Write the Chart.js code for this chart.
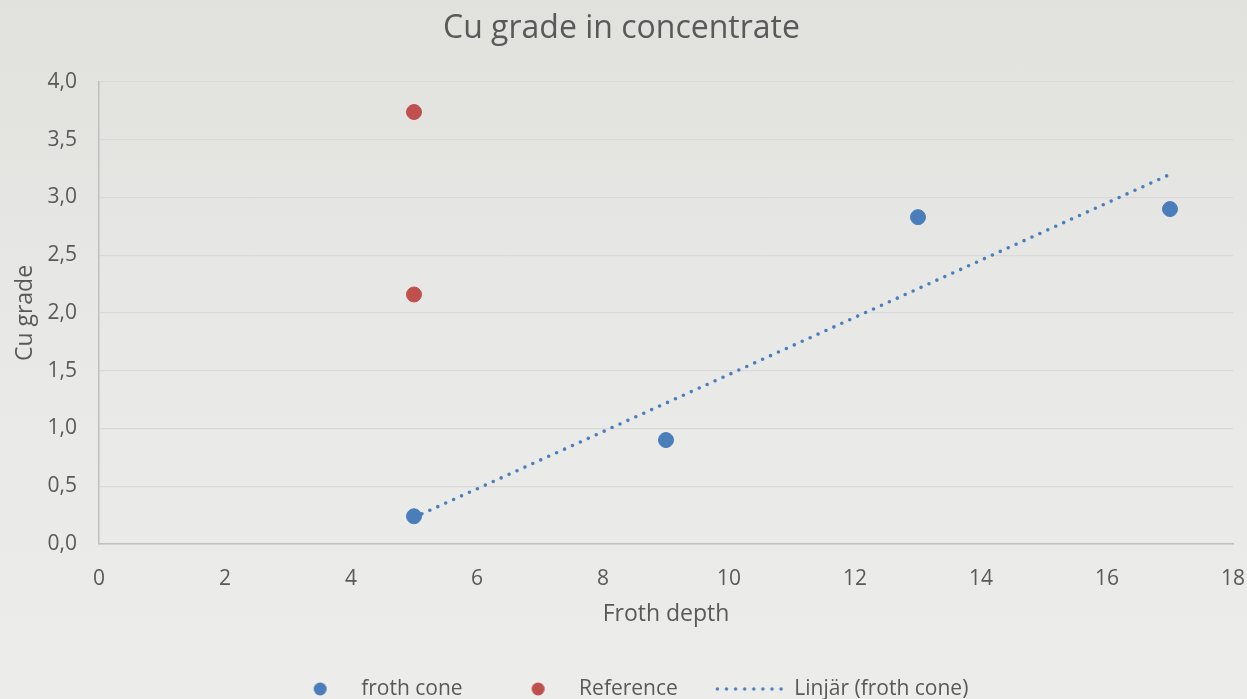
<!DOCTYPE html>
<html>
<head>
<meta charset="utf-8">
<script src="https://cdn.jsdelivr.net/npm/chart.js@4.4.1/dist/chart.umd.min.js"></script>
<style>
  html, body { margin: 0; padding: 0; }
  body {
    width: 1247px;
    height: 699px;
    overflow: hidden;
    background: linear-gradient(#e1e1de, #e9e9e7 55%, #ececeb);
  }
  canvas { display: block; }
</style>
</head>
<body>
<canvas id="chart" width="1247" height="699"></canvas>
<script>
// froth cone samples
const frothDepth = [5, 9, 13, 17];
const frothGrade = [0.24, 0.90, 2.83, 2.90];

// reference samples
const refDepth = [5, 5];
const refGrade = [3.74, 2.16];

const trendDepth = [5, 17];
const trendGrade = [0.23, 3.20];

const seriesNames = ["froth cone", "Reference", "Linjär (froth cone)"];

const blue = "#4a7ebb";
const red = "#c0504d";
const textColor = "#595959";

const toPoints = (xs, ys) => xs.map((x, i) => ({ x: x, y: ys[i] }));

// legend markers drawn into small canvases so the three entries line up like the original
function legendMarker(kind, color) {
    const c = document.createElement("canvas");
    c.width = 76;
    c.height = 18;
    const g = c.getContext("2d");
    g.fillStyle = color;
    if (kind === "dot") {
        g.beginPath();
        g.arc(45.5, 9, 6.5, 0, Math.PI * 2);
        g.fill();
    } else {
        for (let i = 0; i < 8; i++) {
            g.beginPath();
            g.arc(9.5 + i * 9.1, 9, 1.7, 0, Math.PI * 2);
            g.fill();
        }
    }
    return c;
}

const markers = [
    legendMarker("dot", blue),
    legendMarker("dot", red),
    legendMarker("dots", blue)
];

const ctx = document.getElementById("chart").getContext("2d");

new Chart(ctx, {
    type: "scatter",
    data: {
        datasets: [
            {
                label: seriesNames[0],
                data: toPoints(frothDepth, frothGrade),
                backgroundColor: blue,
                borderColor: blue,
                pointRadius: 7.5,
                pointHoverRadius: 7.5
            },
            {
                label: seriesNames[1],
                data: toPoints(refDepth, refGrade),
                backgroundColor: red,
                borderColor: red,
                pointRadius: 7.5,
                pointHoverRadius: 7.5
            },
            {
                label: seriesNames[2],
                data: toPoints(trendDepth, trendGrade),
                showLine: true,
                borderColor: blue,
                backgroundColor: blue,
                borderWidth: 3.6,
                borderDash: [0, 8.7],
                borderCapStyle: "round",
                pointRadius: 0,
                pointHoverRadius: 0
            }
        ]
    },
    options: {
        responsive: false,
        animation: false,
        layout: {
            padding: { left: 10, right: 14, top: 0, bottom: -10.5 }
        },
        plugins: {
            title: {
                display: true,
                text: "Cu grade in concentrate",
                color: textColor,
                font: { family: "Open Sans", size: 32, weight: "normal" },
                padding: { top: 10, bottom: 33.6 }
            },
            legend: {
                position: "bottom",
                labels: {
                    color: textColor,
                    font: { family: "Open Sans", size: 21 },
                    usePointStyle: true,
                    pointStyleWidth: 76,
                    padding: 30,
                    generateLabels: (chart) => {
                        const items = Chart.defaults.plugins.legend.labels.generateLabels(chart);
                        items.forEach((item, i) => {
                            item.pointStyle = markers[i];
                        });
                        return items;
                    }
                }
            },
            tooltip: { enabled: false }
        },
        scales: {
            x: {
                type: "linear",
                min: 0,
                max: 18,
                afterFit: (scale) => {
                    scale.height = 104.5;
                    scale.paddingLeft = 0;
                    scale.paddingRight = 0;
                },
                grid: { display: false, drawTicks: false },
                border: { display: true, color: "#bfbfbf", width: 1.5 },
                ticks: {
                    stepSize: 2,
                    color: textColor,
                    padding: 22,
                    font: { family: "Open Sans", size: 21 }
                },
                title: {
                    display: true,
                    text: "Froth depth",
                    color: textColor,
                    font: { family: "Open Sans", size: 23 },
                    padding: { top: 10, bottom: 20.7 }
                }
            },
            y: {
                type: "linear",
                min: 0,
                max: 4,
                afterFit: (scale) => { scale.width = 89; },
                grid: { color: "#d9d9d9", lineWidth: 1.2, drawTicks: false },
                border: { display: true, color: "#bfbfbf", width: 1.5 },
                ticks: {
                    stepSize: 0.5,
                    color: textColor,
                    padding: 22,
                    font: { family: "Open Sans", size: 21 },
                    callback: (v) => v.toFixed(1).replace(".", ",")
                },
                title: {
                    display: true,
                    text: "Cu grade",
                    color: textColor,
                    font: { family: "Open Sans", size: 23 },
                    padding: { top: 2 }
                }
            }
        }
    }
});
</script>
</body>
</html>
